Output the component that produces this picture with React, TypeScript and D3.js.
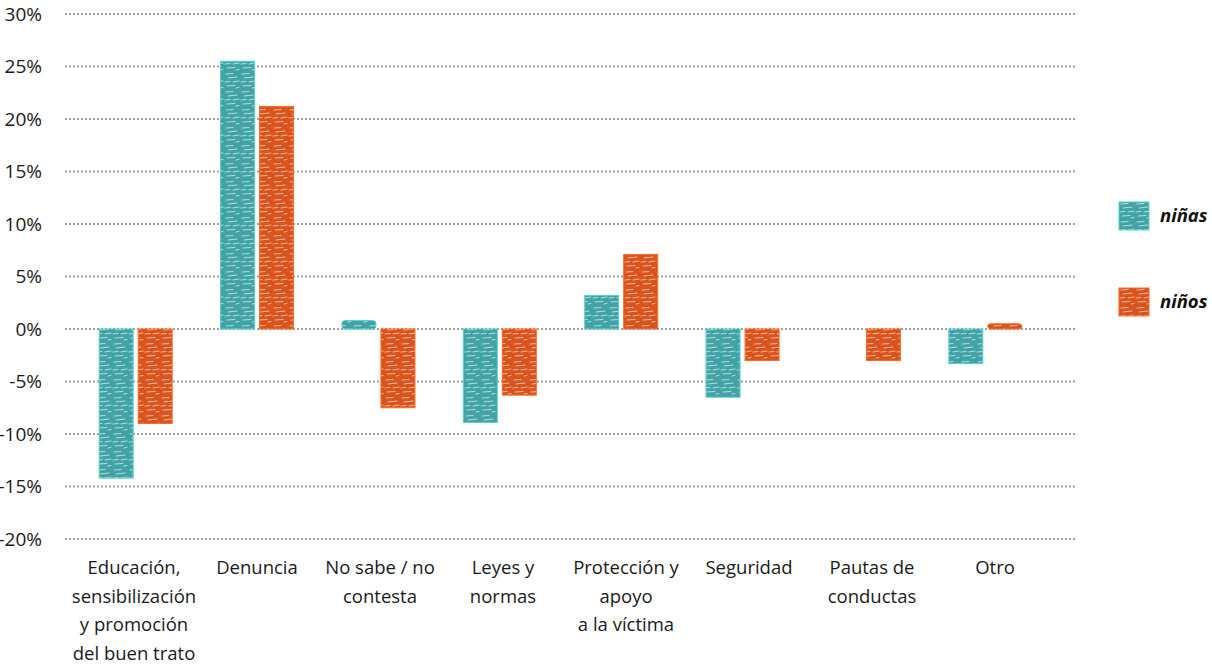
import React from "react";
import * as d3 from "d3";

const categories = [
  ["Educación,", "sensibilización", "y promoción", "del buen trato"],
  ["Denuncia"],
  ["No sabe / no", "contesta"],
  ["Leyes y", "normas"],
  ["Protección y", "apoyo", "a la víctima"],
  ["Seguridad"],
  ["Pautas de", "conductas"],
  ["Otro"],
];
const ninas = [-14.2, 25.5, 0.8, -8.9, 3.2, -6.5, 0, -3.3];
const ninos = [-9.0, 21.2, -7.5, -6.3, 7.1, -3.0, -3.0, 0.5];
const seriesNames = ["niñas", "niños"];
const yTicks = [30, 25, 20, 15, 10, 5, 0, -5, -10, -15, -20];

const colors = ["#41a3a5", "#da521c"];
const W = 1212;
const H = 668;
const font = "'Open Sans', 'Noto Sans', sans-serif";

export default function App() {
  const idx = d3.range(categories.length);
  // bars and labels sit on slightly different bands, as in the original
  const x = d3.scaleBand<number>().domain(idx).range([75, 1046]);
  const xLabel = d3.scaleBand<number>().domain(idx).range([72.5, 1056.5]);
  const y = d3.scaleLinear().domain([-20, 30]).range([539, 14]);
  const barW = 34;
  const gap = 5;
  const series = [ninas, ninos];

  return (
    <svg
      width={W}
      height={H}
      style={{ position: "absolute", left: 0, top: 0, background: "#fff" }}
      fontFamily={font}
    >
      <defs>
        {colors.map((c, i) => (
          <pattern
            key={i}
            id={`hatch${i}`}
            width={16}
            height={18}
            patternUnits="userSpaceOnUse"
          >
            <rect width={16} height={18} fill={c} />
            <path
              d="M2 2 L9 1.5 M4 6 L13 5 M1 10 L6 9.5 M9 10 L15 9 M3 14 L11 13.5 M12 16 L15 15.5"
              stroke="#fff"
              strokeOpacity={0.6}
              strokeWidth={1.1}
              strokeLinecap="round"
            />
          </pattern>
        ))}
      </defs>
      <g>
        {yTicks.map((t) => (
          <g key={t}>
            <line
              x1={65}
              x2={1075}
              y1={y(t)}
              y2={y(t)}
              stroke="#a0a0a0"
              strokeWidth={2}
              strokeDasharray="2 2"
            />
            <text
              x={42}
              y={y(t)}
              dy="0.35em"
              textAnchor="end"
              fontSize={19}
              fill="#1a1a1a"
            >
              {`${t}%`}
            </text>
          </g>
        ))}
      </g>
      <g>
        {series.map((vals, si) =>
          vals.map((v, ci) => {
            if (v === 0) return null;
            const cx = (x(ci) as number) + x.bandwidth() / 2;
            const bx = si === 0 ? cx - gap / 2 - barW : cx + gap / 2;
            const y0 = y(Math.max(0, v));
            const h = Math.abs(y(v) - y(0));
            return (
              <rect
                key={`${si}-${ci}`}
                x={bx}
                y={y0}
                width={barW}
                height={h}
                fill={`url(#hatch${si})`}
                stroke={d3.color(colors[si])!.brighter(0.7).toString()}
                strokeWidth={1}
                rx={h < 12 ? 3 : 0}
              />
            );
          })
        )}
      </g>
      <g>
        {categories.map((lines, ci) => {
          const cx = (xLabel(ci) as number) + xLabel.bandwidth() / 2;
          return (
            <text
              key={ci}
              x={cx}
              y={574}
              textAnchor="middle"
              fontSize={18.5}
              fill="#1a1a1a"
            >
              {lines.map((l, li) => (
                <tspan key={li} x={cx} dy={li === 0 ? 0 : 28.5}>
                  {l}
                </tspan>
              ))}
            </text>
          );
        })}
      </g>
      <g>
        {seriesNames.map((n, i) => (
          <g key={n} transform={`translate(1119, ${202 + i * 86})`}>
            <rect
              width={30}
              height={28}
              fill={`url(#hatch${i})`}
              stroke={d3.color(colors[i])!.brighter(0.7).toString()}
            />
            <text
              x={41}
              y={14}
              dy="0.35em"
              fontSize={18.5}
              fontWeight="bold"
              fontStyle="italic"
              fill="#111"
            >
              {n}
            </text>
          </g>
        ))}
      </g>
    </svg>
  );
}
